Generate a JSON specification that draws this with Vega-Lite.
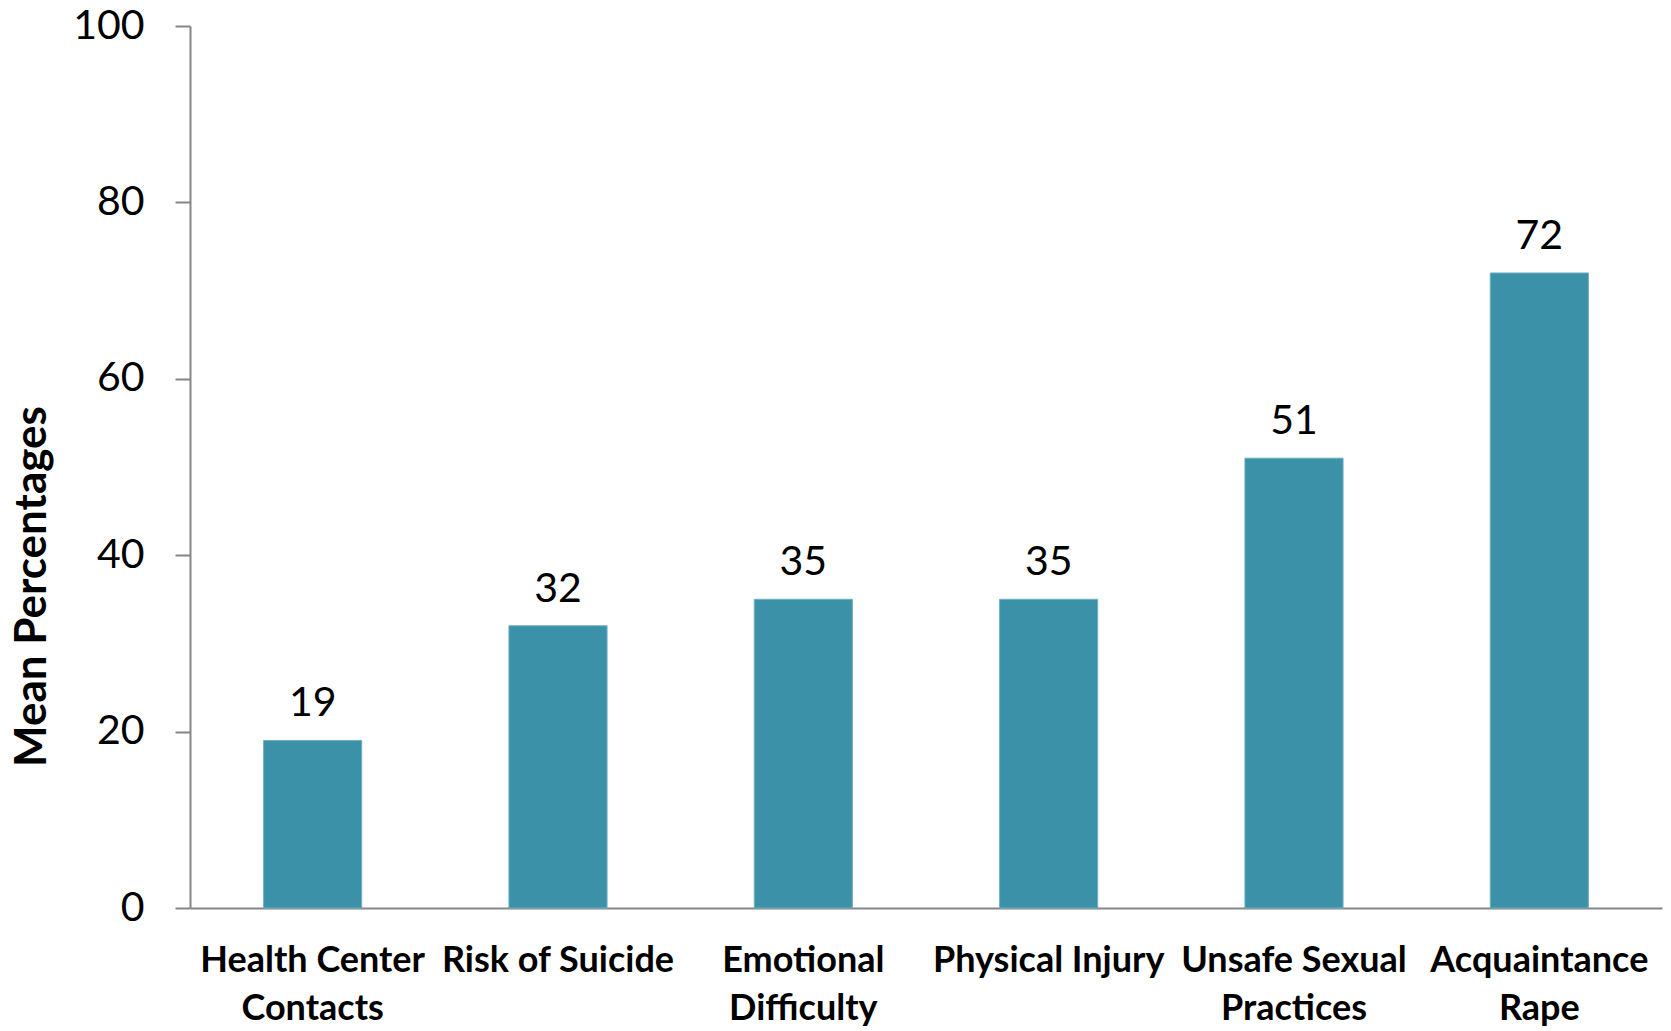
{
  "$schema": "https://vega.github.io/schema/vega-lite/v6.json",
  "autosize": "none",
  "width": 1472,
  "height": 882,
  "padding": {"left": 190, "top": 26, "right": 9, "bottom": 123},
  "background": "white",
  "config": {
    "view": {"stroke": null},
    "font": "Lato"
  },
  "data": {
    "values": [
      {"category": "Health Center Contacts", "value": 19},
      {"category": "Risk of Suicide", "value": 32},
      {"category": "Emotional Difficulty", "value": 35},
      {"category": "Physical Injury", "value": 35},
      {"category": "Unsafe Sexual Practices", "value": 51},
      {"category": "Acquaintance Rape", "value": 72}
    ]
  },
  "encoding": {
    "x": {
      "field": "category",
      "type": "nominal",
      "sort": null,
      "scale": {"paddingInner": 0.6, "paddingOuter": 0.3},
      "axis": {
        "title": null,
        "labelAngle": 0,
        "ticks": false,
        "domainColor": "#868686",
        "domainWidth": 2,
        "labelFont": "Lato",
        "labelFontWeight": "bold",
        "labelFontSize": 36,
        "labelColor": "black",
        "labelPadding": 35,
        "labelLineHeight": 48,
        "labelBaseline": "top",
        "labelExpr": "datum.label == 'Health Center Contacts' ? ['Health Center', 'Contacts'] : datum.label == 'Emotional Difficulty' ? ['Emotional', 'Difficulty'] : datum.label == 'Unsafe Sexual Practices' ? ['Unsafe Sexual', 'Practices'] : datum.label == 'Acquaintance Rape' ? ['Acquaintance', 'Rape'] : datum.label",
        "labelLimit": 400
      }
    },
    "y": {
      "field": "value",
      "type": "quantitative",
      "scale": {"domain": [0, 100]},
      "axis": {
        "title": "Mean Percentages",
        "values": [0, 20, 40, 60, 80, 100],
        "grid": false,
        "domainColor": "#868686",
        "domainWidth": 2,
        "tickColor": "#868686",
        "tickWidth": 2,
        "tickSize": 15,
        "labelFont": "Lato",
        "labelFontSize": 41,
        "labelColor": "black",
        "labelPadding": 31,
        "titleFont": "Lato",
        "titleFontSize": 44,
        "titleFontWeight": "bold",
        "titleColor": "black",
        "titleAngle": -90,
        "titleAlign": "center",
        "titleBaseline": "middle",
        "titleX": -158,
        "titleY": 560
      }
    }
  },
  "layer": [
    {
      "mark": {"type": "bar", "color": "#3A91A8", "stroke": "#6FB0C2", "strokeWidth": 1}
    },
    {
      "mark": {"type": "text", "baseline": "alphabetic", "dy": -24, "fontSize": 41, "font": "Lato", "color": "black"},
      "encoding": {"text": {"field": "value", "type": "quantitative"}}
    }
  ]
}
